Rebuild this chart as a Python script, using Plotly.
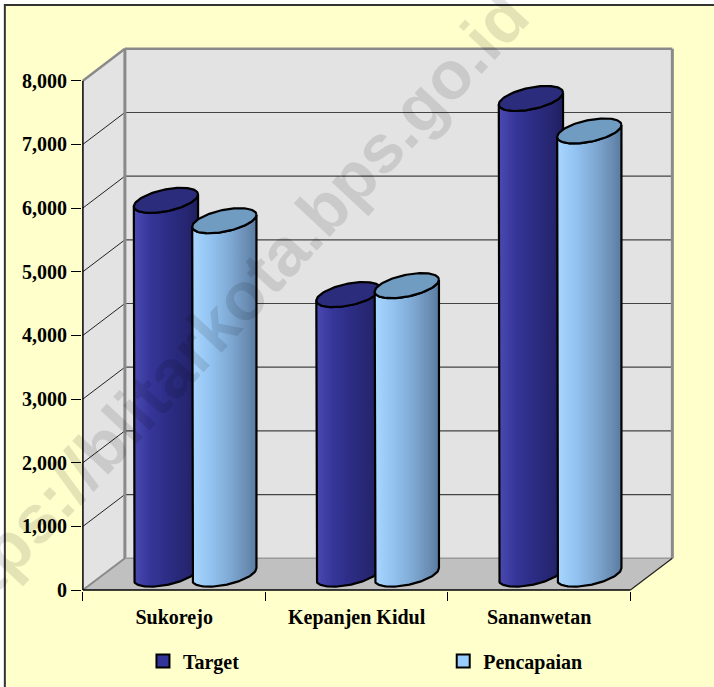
import numpy as np
import plotly.graph_objects as go

# ---------------- data ----------------
categories = ["Sukorejo", "Kepanjen Kidul", "Sananwetan"]
series_names = ["Target", "Pencapaian"]
target = [5870, 4390, 7470]
pencapaian = [5550, 4530, 6960]
y_ticks = [0, 1000, 2000, 3000, 4000, 5000, 6000, 7000, 8000]

# ---------------- geometry / style ----------------
W, H = 714, 687
XR = [-0.505, 2.75]
YR = [-15, 8560]
SX = 182.33            # px per category unit
SY = 509.3 / 8000      # px per value unit
L = 83 - 0.005 * SX
PW = (XR[1] - XR[0]) * SX
R = W - L - PW
PH = (YR[1] - YR[0]) * SY
T = 590 - YR[1] * SY
B = H - T - PH
PB = T + PH  # plot bottom px

DX, DY = 0.23, 500     # 3D depth offset (data units)
wall = "#E3E3E3"
floor = "#C0C0C0"
edge = "#8A8A8A"
serif = "Liberation Serif, Times New Roman, serif"

fig = go.Figure()

def poly(xs, ys, fill=None, line_color="rgba(0,0,0,0)", width=0, **kw):
    fig.add_trace(go.Scatter(
        x=list(xs), y=list(ys), mode="lines",
        fill="toself" if fill or kw.get("fillgradient") else None,
        fillcolor=fill, line=dict(color=line_color, width=width),
        hoverinfo="skip", showlegend=False, **kw))

def seg(x0, y0, x1, y1, color, width):
    fig.add_trace(go.Scatter(x=[x0, x1], y=[y0, y1], mode="lines",
                             line=dict(color=color, width=width),
                             hoverinfo="skip", showlegend=False))

x0, x1 = -0.5, len(categories) - 0.5
ymax = y_ticks[-1]
# back wall, left wall, floor
poly([x0 + DX, x1 + DX, x1 + DX, x0 + DX, x0 + DX], [DY, DY, ymax + DY, ymax + DY, DY], fill=wall)
poly([x0, x0 + DX, x0 + DX, x0, x0], [0, DY, ymax + DY, ymax, 0], fill=wall)
poly([x0, x1, x1 + DX, x0 + DX, x0], [0, 0, DY, DY, 0], fill=floor)

# gridlines
for v in y_ticks[1:-1]:
    seg(x0, v, x0 + DX, v + DY, "#222222", 1)
    seg(x0 + DX, v + DY, x1 + DX, v + DY, "#444444", 1.2)

# wall edges
seg(x0, ymax, x0 + DX, ymax + DY, edge, 2.5)
seg(x0 + DX, ymax + DY, x1 + DX, ymax + DY, edge, 2.5)
seg(x1 + DX, ymax + DY, x1 + DX, DY, edge, 3)
seg(x0 + DX, ymax + DY, x0 + DX, DY, edge, 3)
seg(x0 + DX, DY, x1 + DX, DY, "#9A9A9A", 1.5)
seg(x0, 0, x0 + DX, DY, edge, 2)
seg(x1, 0, x1 + DX, DY, "#222222", 1.2)
# front axes lines
seg(x0, 0, x0, ymax, "#000000", 1.5)
seg(x0, 0, x1, 0, "#000000", 1.5)

# ---------------- cylinders ----------------
A = 0.176
EB = 11 / SY
EK = 6 / SY
off = [-0.16, 0.16]
body_cs = [
    [[0, "#4A4AB2"], [0.25, "#36369A"], [0.55, "#2C2C84"], [0.85, "#25256F"], [1, "#1E1E5E"]],
    [[0, "#A8D6FF"], [0.3, "#92C2F0"], [0.6, "#7EA8D2"], [0.85, "#6A8DB4"], [1, "#5A7BA0"]],
]
top_col = ["#2C2C7C", "#709CC2"]
vals = [target, pencapaian]

t_front = np.linspace(np.pi, 2 * np.pi, 60)
t_full = np.linspace(0, 2 * np.pi, 120)
for i in range(len(categories)):
    for s in range(2):
        cx = i + off[s] + DX / 2
        base = DY / 2
        top = vals[s][i] + DY / 2
        bx = [cx - A, cx - A] + list(cx + A * np.cos(t_front)) + [cx + A]
        by = [top - EK, base - EK] + list(base + EB * np.sin(t_front) + EK * np.cos(t_front)) + [top + EK]
        bx += list(cx + A * np.cos(t_front[::-1]))
        by += list(top + EB * np.sin(t_front[::-1]) + EK * np.cos(t_front[::-1]))
        poly(bx, by, line_color="#000000", width=2.2,
             fillgradient=dict(type="horizontal", colorscale=body_cs[s]))
        poly(cx + A * np.cos(t_full), top + EB * np.sin(t_full) + EK * np.cos(t_full),
             fill=top_col[s], line_color="#000000", width=2.2)

# legend entries (one legend box per series, to reproduce the wide spacing)
leg_cols = ["#333399", "#99CCFF"]
leg_ids = ["legend", "legend2"]
for s in range(2):
    fig.add_trace(go.Scatter(x=[None], y=[None], mode="markers", name=series_names[s],
                             legend=leg_ids[s],
                             marker=dict(symbol="square", size=13, color=leg_cols[s],
                                         line=dict(color="#000000", width=2))))

def px2paper_x(px):
    return (px - L) / PW

def px2paper_y(py):
    return (PB - py) / PH

# background frame
fig.add_shape(type="rect", xref="paper", yref="paper", layer="below",
              x0=px2paper_x(5), x1=px2paper_x(740), y0=px2paper_y(720), y1=px2paper_y(5),
              fillcolor="#FFFFCC", line=dict(color="#333333", width=2))

# watermark
fig.add_annotation(text="https://blitarkota.bps.go.id", xref="paper", yref="paper",
                   x=px2paper_x(224), y=px2paper_y(315), xanchor="center", yanchor="middle",
                   showarrow=False, textangle=-47,
                   font=dict(family="Liberation Sans, Arial, sans-serif", size=68,
                             color="rgba(0,0,0,0.11)", weight="bold"))

leg_font = dict(family=serif, size=20, color="#000000", weight="bold")
fig.update_layout(
    width=W, height=H,
    margin=dict(l=L, r=R, t=T, b=B, autoexpand=False),
    paper_bgcolor="#FFFFFF", plot_bgcolor="rgba(0,0,0,0)",
    xaxis=dict(range=XR, tickvals=list(range(len(categories))), ticktext=categories,
               ticks="", showgrid=False, zeroline=False, showline=False,
               ticklabelstandoff=12,
               tickfont=dict(family=serif, size=20, color="#000000", weight="bold"),
               minor=dict(tickmode="array", tickvals=[x0 + k for k in range(len(categories) + 1)],
                          ticks="outside", ticklen=9, tickwidth=1.3, tickcolor="#000000",
                          showgrid=False),
               fixedrange=True),
    yaxis=dict(range=YR, tickvals=y_ticks, tickformat=",d", ticks="outside", ticklen=10,
               tickwidth=1.3, tickcolor="#000000", showgrid=False, zeroline=False,
               showline=False,
               tickfont=dict(family=serif, size=20, color="#000000", weight="bold"),
               fixedrange=True),
    showlegend=True,
    legend=dict(orientation="h", x=px2paper_x(143), xanchor="left",
                y=px2paper_y(661), yanchor="middle", itemwidth=30,
                bgcolor="rgba(0,0,0,0)", font=leg_font),
    legend2=dict(orientation="h", x=px2paper_x(443), xanchor="left",
                 y=px2paper_y(661), yanchor="middle", itemwidth=30,
                 bgcolor="rgba(0,0,0,0)", font=leg_font),
)

fig.write_html("out.html", config={"displayModeBar": False},
               post_script="document.body.style.margin='0';")
